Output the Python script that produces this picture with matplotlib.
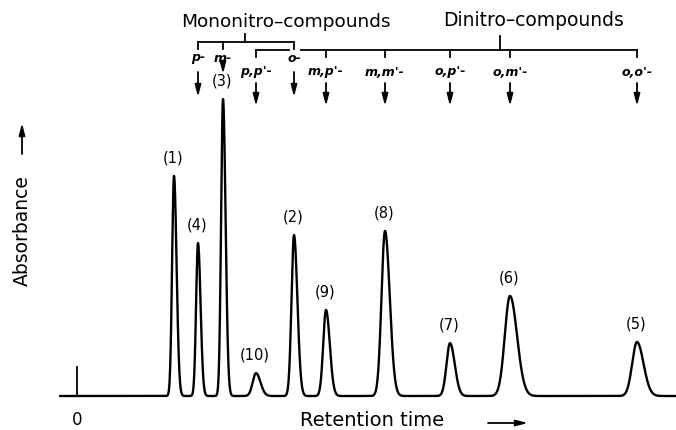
import numpy as np
import matplotlib.pyplot as plt

# peaks of the chromatogram (retention in arbitrary units, height relative to peak (3))
peak_labels = ['(1)', '(4)', '(3)', '(10)', '(2)', '(9)', '(8)', '(7)', '(6)', '(5)']
retention = [9.7, 12.1, 14.6, 17.9, 21.7, 24.9, 30.8, 37.3, 43.3, 56.0]
heights = [74.1, 51.5, 100.0, 7.7, 54.2, 29.0, 55.6, 17.8, 33.7, 18.2]
widths = [0.19, 0.19, 0.19, 0.33, 0.25, 0.28, 0.35, 0.35, 0.52, 0.48]
injection_height = 9.8

# compound assignments
mono_names = ['p-', 'm-', 'o-']
mono_peaks = ['(4)', '(3)', '(2)']
di_names = ["p,p'-", "m,p'-", "m,m'-", "o,p'-", "o,m'-", "o,o'-"]
di_peaks = ['(10)', '(9)', '(8)', '(7)', '(6)', '(5)']

H = 431.0


def fy(py):
    # pixel row -> axes fraction
    return 1 - py / H


def rt_of(label):
    return retention[peak_labels.index(label)]


fig = plt.figure(figsize=(6.76, 4.31), dpi=100)
ax = fig.add_axes([0, 0, 1, 1])
ax.set_xlim(-7.7, 59.9)
ax.set_ylim(-11.45, 133.7)
ax.axis('off')

# signal
t = np.linspace(-1.7, 59.9, 6000)
signal = np.zeros_like(t)
for rt, h, w in zip(retention, heights, widths):
    s = np.where(t < rt, w, w * 1.35)
    signal += h * np.exp(-0.5 * ((t - rt) / s) ** 2)
ax.plot(t, signal, color='black', lw=1.7, solid_capstyle='round')
ax.plot([0, 0], [0, injection_height], color='black', lw=1.3)

# peak numbers
for lab, rt, h in zip(peak_labels, retention, heights):
    ax.text(rt - 0.1, h + 6.5, lab, ha='center', va='center', fontsize=10.5)

tr = ax.get_xaxis_transform()
lk = dict(color='black', lw=1.3, transform=tr, clip_on=False)
arrow = dict(arrowstyle='-|>,head_length=0.7,head_width=0.18', color='black',
             lw=1.3, mutation_scale=10, shrinkA=0, shrinkB=0)
lab_font = dict(fontsize=9, fontweight='bold', fontstyle='italic', ha='center', va='center')

# mononitro bracket
mx = [rt_of(p) for p in mono_peaks]
ax.plot([mx[0], mx[-1]], [fy(43), fy(43)], **lk)
for x in mx:
    ax.plot([x, x], [fy(43), fy(50)], **lk)
ax.plot([16.8, 16.8], [fy(43), fy(35)], **lk)
ax.text(20.9, fy(22), 'Mononitro–compounds', transform=tr, ha='center', va='center', fontsize=13.3)
for name, x in zip(mono_names, mx):
    ax.text(x, fy(58), name, transform=tr, **lab_font)
    if name == 'm-':
        ax.annotate('', xy=(x, fy(75)), xytext=(x, fy(66)), xycoords=tr, arrowprops=arrow)
    else:
        ax.annotate('', xy=(x, fy(98)), xytext=(x, fy(73)), xycoords=tr, arrowprops=arrow)

# dinitro bracket
dx = [rt_of(p) for p in di_peaks]
ax.plot([dx[0], mx[-1] - 0.5], [fy(51), fy(51)], **lk)
ax.plot([mx[-1] + 0.7, dx[-1]], [fy(51), fy(51)], **lk)
for x in dx:
    ax.plot([x, x], [fy(51), fy(58)], **lk)
ax.plot([42.3, 42.3], [fy(51), fy(37)], **lk)
ax.text(45.7, fy(20), 'Dinitro–compounds', transform=tr, ha='center', va='center', fontsize=13.5)
for name, x in zip(di_names, dx):
    ax.text(x, fy(72), name, transform=tr, **lab_font)
    ax.annotate('', xy=(x, fy(107)), xytext=(x, fy(84)), xycoords=tr, arrowprops=arrow)

# axis captions
ax.text(0, fy(420), '0', transform=tr, ha='center', va='center', fontsize=12)
ax.text(29.5, fy(421), 'Retention time', transform=tr, ha='center', va='center', fontsize=14)
ax.annotate('', xy=(45.1, fy(424)), xytext=(41.1, fy(424)), xycoords=tr, arrowprops=arrow)
ax.text(22 / 676, fy(231), 'Absorbance', transform=ax.transAxes, rotation=90,
        ha='center', va='center', fontsize=13.5)
ax.annotate('', xy=(22 / 676, fy(124)), xytext=(22 / 676, fy(155)),
            xycoords='axes fraction', arrowprops=arrow)

fig.savefig('out.png', dpi=100)
